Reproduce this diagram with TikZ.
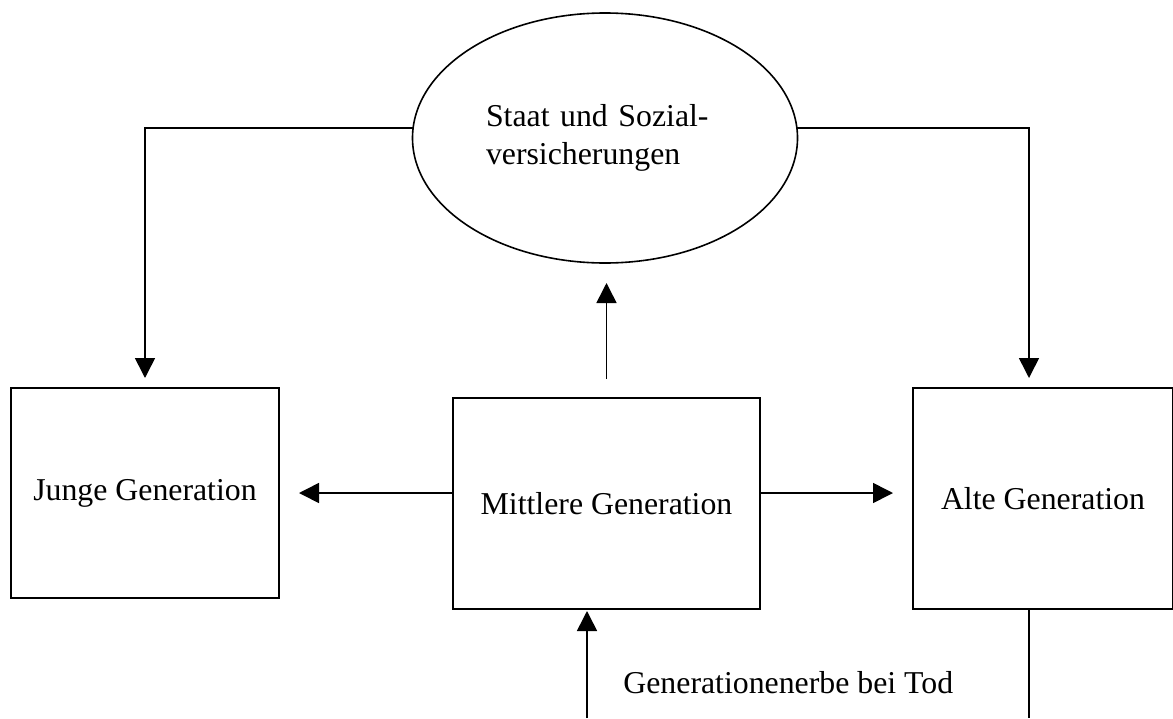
\documentclass[tikz,border=0pt]{standalone}
\usepackage{fontspec}
\setmainfont{Liberation Serif}
\usetikzlibrary{arrows.meta,positioning,calc,shapes.geometric}
\tikzset{
  flowarrow/.style={-{Triangle[length=10pt,width=10pt]}, line width=0.8pt, draw=black},
  plainline/.style={line width=0.8pt, draw=black},
  genbox/.style={draw=black, line width=0.8pt, inner sep=0pt, outer sep=0pt,
    align=center, font=\fontsize{15.9}{19}\selectfont}
}
\begin{document}
\begin{tikzpicture}[
        x=0.5pt,y=-0.5pt,
        staatnode/.style={ellipse, draw=black, line width=0.8pt, inner sep=0pt, outer sep=0pt,
            minimum width=192.5pt, minimum height=125pt, text width=119pt, align=left,
            font=\fontsize{15.9}{19}\selectfont},
        notelabel/.style={font=\fontsize{15.9}{19}\selectfont, inner sep=0pt, anchor=base west}
    ]
        \useasboundingbox (0,0) rectangle (1173,718);

        \node[staatnode] (staat) at (605,138) {Staat und Sozial-\\versicherungen};
        \node[genbox, minimum width=134pt, minimum height=105pt] (jung) at (145,493) {Junge Generation};
        \node[genbox, minimum width=153.5pt, minimum height=105.5pt] (mitte) at (606.5,503.5) {Mittlere Generation};
        \node[genbox, minimum width=130pt, minimum height=110.5pt] (alt) at (1043,498.5) {Alte Generation};

        % Staat -> Junge / Alte
        \draw[flowarrow, shorten >=5pt] (staat.177) -| (jung.north);
        \coordinate (altoben) at ($(alt.north)+(-14,0)$);
        \draw[flowarrow, shorten >=5pt] (staat.3) -| (altoben);

        % Mittlere -> Staat
        \draw[flowarrow, shorten <=9.5pt, shorten >=10pt] (mitte.north) -- (mitte.north |- staat.south);

        % Mittlere -> Junge / Alte
        \coordinate (mlinks) at ($(mitte.west)+(0,-10.5)$);
        \coordinate (mrechts) at ($(mitte.east)+(0,-10.5)$);
        \draw[flowarrow, shorten >=10pt] (mlinks) -- (mlinks -| jung.east);
        \draw[flowarrow, shorten >=10pt] (mrechts) -- (mrechts -| alt.west);

        % Erbe
        \coordinate (erbe) at (587,718);
        \coordinate (altunten) at (1029,718);
        \draw[flowarrow, shorten >=1pt] (erbe) -- (erbe |- mitte.south);
        \draw[plainline] (altunten |- alt.south) -- (altunten);
        \node[notelabel] (erbetext) at (623,693) {Generationenerbe bei Tod};
    \end{tikzpicture}
\end{document}
